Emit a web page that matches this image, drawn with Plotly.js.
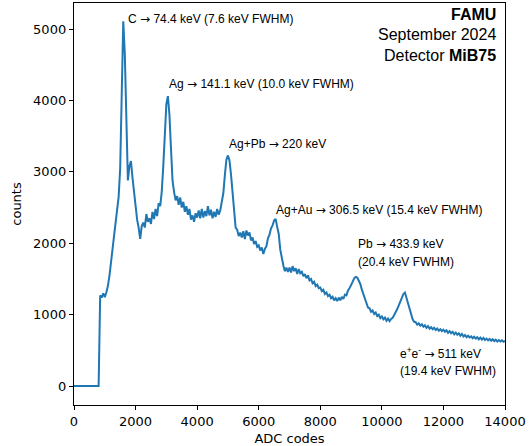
<!DOCTYPE html>
<html>
<head>
<meta charset="utf-8">
<script src="https://cdn.plot.ly/plotly-3.0.1.min.js"></script>
<style>
  html, body { margin: 0; padding: 0; background: #fff; }
  #chart { width: 529px; height: 446px; }
</style>
</head>
<body>
<div id="chart"></div>
<script>
// ADC spectrum, MiB75 detector: counts per 50-code bin, bins starting at 0
const binWidth = 50;
const counts = [
  // 0 - 950
  0, 0, 0, 0, 0, 0, 0, 0, 0, 0, 0, 0, 0, 0, 0, 0, 0, 1270, 1240, 1300,
  // 1000 - 1950
  1245, 1310, 1400, 1540, 1690, 1910, 2100, 2300, 2460, 2650, 3050, 4250, 5110, 4650, 3650, 2880, 3080, 3150, 2920, 2700,
  // 2000 - 2950
  2520, 2330, 2220, 2060, 2240, 2290, 2220, 2410, 2300, 2350, 2270, 2440, 2340, 2480, 2380, 2560, 2520, 2720, 3080, 3550,
  // 3000 - 3950
  3950, 4060, 3800, 3330, 2880, 2720, 2600, 2660, 2540, 2640, 2500, 2580, 2440, 2520, 2400, 2480, 2330, 2390, 2300, 2420,
  // 4000 - 4950
  2360, 2460, 2350, 2480, 2360, 2450, 2380, 2520, 2390, 2470, 2350, 2440, 2370, 2480, 2400, 2460, 2560, 2700, 2950, 3170,
  // 5000 - 5950
  3230, 3160, 2960, 2680, 2390, 2220, 2190, 2100, 2150, 2080, 2170, 2060, 2180, 2110, 2150, 2040, 2080, 1990, 2030, 1950,
  // 6000 - 6950
  1970, 1900, 1940, 1850, 1920, 1960, 2070, 2120, 2210, 2250, 2320, 2340, 2230, 2130, 1910, 1770, 1690, 1610, 1660, 1600,
  // 7000 - 7950
  1660, 1590, 1680, 1610, 1650, 1570, 1640, 1580, 1600, 1540, 1570, 1510, 1550, 1480, 1500, 1440, 1460, 1400, 1420, 1370,
  // 8000 - 8950
  1380, 1330, 1350, 1290, 1310, 1260, 1280, 1230, 1250, 1200, 1230, 1190, 1240, 1200, 1250, 1220, 1280, 1270, 1340, 1370,
  // 9000 - 9950
  1430, 1460, 1510, 1530, 1520, 1480, 1430, 1350, 1290, 1210, 1160, 1100, 1090, 1040, 1060, 1010, 1030, 980, 1000, 950,
  // 10000 - 10950
  975, 935, 960, 915, 945, 910, 940, 955, 995, 1030, 1080, 1130, 1190, 1240, 1290, 1310, 1230, 1150, 1060, 980,
  // 11000 - 11950
  935, 900, 895, 860, 880, 845, 865, 830, 850, 815, 840, 805, 825, 795, 815, 785, 805, 775, 795, 770,
  // 12000 - 12950
  790, 760, 780, 745, 770, 740, 760, 725, 750, 720, 740, 705, 730, 695, 715, 685, 705, 680, 695, 670,
  // 13000 - 14000
  690, 665, 685, 655, 680, 650, 675, 645, 665, 640, 660, 635, 655, 630, 650, 625, 645, 625, 640, 620, 635
];
const adc = counts.map((_, i) => i * binWidth);

// Arrow glyph drawn with DejaVu Sans (full-width arrow)
const ARROW = '<span style="font-family:DejaVu Sans">\u2192</span>';

// Peak labels: text, anchor position in ADC codes / counts
const peakLabels = [
  "C " + ARROW + " 74.4 keV (7.6 keV FWHM)",
  "Ag " + ARROW + " 141.1 keV (10.0 keV FWHM)",
  "Ag+Pb " + ARROW + " 220 keV",
  "Ag+Au " + ARROW + " 306.5 keV (15.4 keV FWHM)",
  "Pb " + ARROW + " 433.9 keV",
  "(20.4 keV FWHM)",
  "e<sup>+</sup>e<sup>-</sup> " + ARROW + " 511 keV",
  "(19.4 keV FWHM)"
];
const peakLabelX = [1690, 3020, 4970, 6495, 9160, 9160, 10520, 10520];
const peakLabelY = [5140, 4228, 3385, 2472, 1990, 1740, 460, 205];

const xTicks = [0, 2000, 4000, 6000, 8000, 10000, 12000, 14000];
const xTickText = ["0", "2000", "4000", "6000", "8000", "10000", "12000", "14000"];
const yTicks = [0, 1000, 2000, 3000, 4000, 5000];

const headerLines = ["<b>FAMU</b>", "September 2024", "Detector <b>MiB75</b>"];
const headerY = [0.972, 0.921, 0.870];

const labelFont = { family: "Liberation Sans, Arial, sans-serif", size: 12, color: "#000" };

const annotations = peakLabels.map((t, i) => ({
  text: t, x: peakLabelX[i], y: peakLabelY[i], xref: "x", yref: "y",
  xanchor: "left", yanchor: "middle", showarrow: false, font: labelFont
})).concat(headerLines.map((t, i) => ({
  text: t, x: 0.984, y: headerY[i], xref: "paper", yref: "paper",
  xanchor: "right", yanchor: "middle", showarrow: false,
  font: { family: "Liberation Sans, Arial, sans-serif", size: 16, color: "#000" }
})));

const axisCommon = {
  showgrid: false, zeroline: false, showline: true, mirror: true,
  linecolor: "#000", linewidth: 1.2, ticks: "outside", ticklen: 4,
  tickwidth: 1, tickcolor: "#000",
  tickfont: { family: "DejaVu Sans, sans-serif", size: 13, color: "#000" }
};

Plotly.newPlot("chart", [{
  x: adc, y: counts, type: "scatter", mode: "lines",
  line: { color: "#1f77b4", width: 2 }, hoverinfo: "skip"
}], {
  width: 529, height: 446,
  margin: { l: 74, r: 24, t: 3, b: 41 },
  paper_bgcolor: "#fff", plot_bgcolor: "#fff",
  showlegend: false,
  xaxis: Object.assign({}, axisCommon, {
    range: [0, 14000], tickvals: xTicks, ticktext: xTickText,
    title: { text: "ADC codes", standoff: 6, font: { family: "DejaVu Sans, sans-serif", size: 13, color: "#000" } }
  }),
  yaxis: Object.assign({}, axisCommon, {
    range: [-265, 5365], tickvals: yTicks,
    title: { text: "counts", standoff: 8, font: { family: "DejaVu Sans, sans-serif", size: 13, color: "#000" } }
  }),
  annotations: annotations
}, { staticPlot: true });
</script>
</body>
</html>
